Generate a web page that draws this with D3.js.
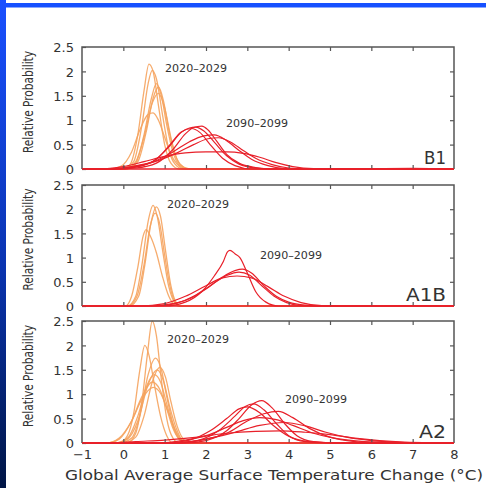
<!DOCTYPE html>
<html><head><meta charset="utf-8">
<script src="https://cdn.jsdelivr.net/npm/d3@7/dist/d3.min.js"></script>
<style>html,body{margin:0;padding:0;background:#fff;}svg{display:block;}</style>
</head><body>
<script>
// ---- data ----
const xTicks = [-1,0,1,2,3,4,5,6,7,8];
const xTickLabels = ["\u22121","0","1","2","3","4","5","6","7","8"];
const yTicks = [0,0.5,1,1.5,2,2.5];
const yTickLabels = ["0","0.5","1","1.5","2","2.5"];
const scenarios = ["B1","A1B","A2"];
const earlyLabel = "2020\u20132029";
const lateLabel = "2090\u20132099";
const yTitle = "Relative Probability";
const xTitle = "Global Average Surface Temperature Change (\u00B0C)";

const b1Early = [
  [[-0.1,0],[0.15,0.08],[0.35,0.7],[0.5,1.6],[0.62,2.15],[0.72,2.0],[0.85,1.3],[1.0,0.5],[1.15,0.12],[1.35,0]],
  [[0,0],[0.25,0.15],[0.45,0.9],[0.6,1.75],[0.7,2.02],[0.8,1.85],[0.95,1.1],[1.1,0.4],[1.25,0.1],[1.45,0]],
  [[0.05,0],[0.3,0.12],[0.5,0.7],[0.68,1.45],[0.8,1.75],[0.92,1.5],[1.05,0.9],[1.2,0.35],[1.35,0.08],[1.55,0]],
  [[0.1,0],[0.35,0.15],[0.55,0.75],[0.72,1.45],[0.85,1.68],[0.97,1.4],[1.1,0.8],[1.25,0.3],[1.4,0.07],[1.6,0]],
  [[0.05,0],[0.3,0.15],[0.5,0.65],[0.7,1.35],[0.85,1.55],[1.0,1.25],[1.15,0.65],[1.3,0.2],[1.45,0.04],[1.6,0]],
  [[-0.3,0],[-0.05,0.06],[0.2,0.35],[0.4,0.8],[0.6,1.12],[0.72,1.15],[0.85,1.0],[1.0,0.65],[1.15,0.3],[1.3,0.1],[1.5,0]]
];
const b1Late = [
  [[-0.2,0],[0.3,0.02],[0.8,0.12],[1.2,0.4],[1.5,0.72],[1.7,0.85],[1.9,0.88],[2.05,0.8],[2.25,0.58],[2.5,0.3],[2.8,0.12],[3.2,0.03],[3.6,0]],
  [[-0.3,0],[0.2,0.03],[0.7,0.15],[1.1,0.45],[1.4,0.75],[1.6,0.84],[1.75,0.86],[1.95,0.78],[2.2,0.55],[2.5,0.27],[2.8,0.1],[3.2,0.02],[3.6,0]],
  [[-0.2,0],[0.3,0.04],[0.8,0.2],[1.15,0.52],[1.4,0.76],[1.65,0.83],[1.85,0.75],[2.1,0.5],[2.4,0.22],[2.7,0.07],[3.1,0]],
  [[-0.4,0],[0.2,0.04],[0.7,0.14],[1.2,0.35],[1.6,0.56],[1.95,0.68],[2.2,0.7],[2.5,0.58],[2.8,0.38],[3.1,0.2],[3.5,0.07],[3.9,0.01],[4.3,0]],
  [[-0.4,0],[0.2,0.05],[0.8,0.16],[1.3,0.33],[1.7,0.5],[2.05,0.62],[2.3,0.64],[2.6,0.55],[2.9,0.38],[3.2,0.22],[3.6,0.09],[4.0,0.02],[4.5,0]],
  [[-0.6,0],[0,0.05],[0.5,0.15],[1.0,0.26],[1.5,0.33],[2.0,0.35],[2.5,0.35],[2.9,0.32],[3.3,0.24],[3.7,0.13],[4.1,0.05],[4.6,0.01],[5.5,0.005],[7,0.015],[8,0]]
];
const a1bEarly = [
  [[0.1,0],[0.3,0.2],[0.45,0.85],[0.6,1.75],[0.72,2.08],[0.82,1.85],[0.95,1.15],[1.1,0.4],[1.25,0.06],[1.35,0]],
  [[0.15,0],[0.37,0.2],[0.52,0.85],[0.67,1.72],[0.8,2.05],[0.9,1.85],[1.02,1.15],[1.15,0.42],[1.28,0.07],[1.4,0]],
  [[0.12,0],[0.33,0.2],[0.5,0.85],[0.65,1.65],[0.77,1.92],[0.88,1.7],[1.0,1.05],[1.13,0.4],[1.27,0.06],[1.38,0]],
  [[0.05,0],[0.2,0.2],[0.35,0.8],[0.48,1.45],[0.55,1.58],[0.65,1.45],[0.8,1.1],[0.95,0.6],[1.1,0.2],[1.25,0.02],[1.35,0]]
];
const a1bLate = [
  [[1.0,0],[1.5,0.08],[1.9,0.3],[2.2,0.62],[2.42,0.92],[2.52,1.12],[2.58,1.15],[2.7,1.08],[2.82,1.0],[3.0,0.68],[3.2,0.3],[3.45,0.08],[3.75,0]],
  [[0.6,0],[1.2,0.05],[1.6,0.15],[2.0,0.35],[2.4,0.6],[2.7,0.73],[2.88,0.76],[3.1,0.68],[3.4,0.42],[3.7,0.2],[4.0,0.08],[4.4,0.02],[5,0]],
  [[0.8,0],[1.3,0.06],[1.7,0.2],[2.1,0.42],[2.5,0.63],[2.8,0.7],[3.05,0.64],[3.35,0.42],[3.65,0.2],[3.95,0.07],[4.3,0.01],[4.8,0]],
  [[0.4,0],[1.0,0.05],[1.5,0.2],[2.0,0.42],[2.4,0.58],[2.75,0.62],[3.1,0.58],[3.5,0.4],[3.9,0.2],[4.3,0.07],[4.8,0.01],[5.5,0],[7,0.01],[8,0]]
];
const a2Early = [
  [[0.1,0],[0.3,0.2],[0.45,0.85],[0.58,1.8],[0.7,2.5],[0.8,2.2],[0.92,1.3],[1.05,0.5],[1.2,0.1],[1.35,0]],
  [[-0.1,0],[0.1,0.15],[0.25,0.6],[0.4,1.5],[0.52,2.0],[0.62,1.8],[0.75,1.2],[0.9,0.55],[1.05,0.15],[1.2,0]],
  [[-0.1,0],[0.2,0.1],[0.4,0.55],[0.6,1.4],[0.78,1.74],[0.92,1.5],[1.05,0.95],[1.2,0.4],[1.35,0.1],[1.55,0]],
  [[0,0],[0.3,0.12],[0.5,0.55],[0.7,1.25],[0.88,1.55],[1.02,1.35],[1.15,0.85],[1.3,0.35],[1.45,0.08],[1.6,0]],
  [[-0.2,0],[0.1,0.08],[0.35,0.45],[0.6,1.2],[0.82,1.5],[0.98,1.25],[1.12,0.75],[1.28,0.3],[1.42,0.06],[1.6,0]],
  [[-0.2,0],[0.1,0.1],[0.35,0.55],[0.58,1.2],[0.75,1.4],[0.9,1.25],[1.05,0.8],[1.2,0.35],[1.35,0.08],[1.5,0]],
  [[-0.4,0],[-0.1,0.08],[0.2,0.45],[0.45,0.95],[0.7,1.25],[0.88,1.1],[1.05,0.7],[1.2,0.3],[1.35,0.08],[1.55,0]],
  [[-0.4,0],[-0.1,0.1],[0.2,0.45],[0.45,0.9],[0.72,1.14],[0.9,1.02],[1.08,0.65],[1.25,0.28],[1.4,0.07],[1.6,0]]
];
const a2Late = [
  [[1.5,0],[2.0,0.05],[2.5,0.25],[2.8,0.5],[3.1,0.78],[3.35,0.87],[3.6,0.72],[3.9,0.4],[4.2,0.15],[4.6,0.03],[5.2,0]],
  [[1.3,0],[1.8,0.05],[2.3,0.25],[2.7,0.55],[2.95,0.75],[3.15,0.8],[3.4,0.68],[3.7,0.4],[4.0,0.15],[4.4,0.03],[5,0]],
  [[1.0,0],[1.6,0.06],[2.1,0.25],[2.5,0.5],[2.8,0.7],[3.0,0.74],[3.3,0.62],[3.6,0.38],[4.0,0.14],[4.5,0.03],[5.2,0]],
  [[1.2,0],[2.0,0.08],[2.5,0.2],[3.0,0.45],[3.4,0.6],[3.75,0.65],[4.1,0.52],[4.5,0.3],[5.0,0.12],[5.6,0.03],[6.3,0]],
  [[0.8,0],[1.5,0.06],[2.0,0.15],[2.5,0.32],[2.9,0.46],[3.3,0.52],[3.7,0.48],[4.1,0.36],[4.6,0.2],[5.1,0.1],[5.7,0.04],[6.5,0.01],[7.2,0]],
  [[1.0,0],[2.0,0.08],[2.7,0.22],[3.3,0.36],[3.9,0.42],[4.4,0.35],[4.9,0.22],[5.4,0.12],[6.0,0.05],[6.8,0.01],[7.5,0]],
  [[-0.3,0],[0.3,0.03],[1.0,0.06],[1.8,0.12],[2.5,0.2],[3.2,0.24],[3.8,0.25],[4.4,0.22],[5.0,0.17],[5.6,0.1],[6.2,0.05],[6.8,0.02],[7.5,0.005],[8,0]]
];
const earlySeries = [b1Early, a1bEarly, a2Early];
const lateSeries = [b1Late, a1bLate, a2Late];

// ---- layout ----
const W = 486, H = 488;
const panelTops = [47, 185, 321];
const panelBottoms = [169, 306, 443];
const left = 82, right = 454;
const earlyPos = [[196,68],[198,204],[198,339]];
const latePos = [[257,123],[291,255],[316,399]];
const scenLen = [22, 40, 27];

const svg = d3.select("body").append("svg").attr("width", W).attr("height", H);
const defs = svg.append("defs");
const grad = defs.append("linearGradient").attr("id","strip").attr("x1",0).attr("y1",0).attr("x2",0).attr("y2",1);
grad.append("stop").attr("offset","0%").attr("stop-color","#1a50ff");
grad.append("stop").attr("offset","55%").attr("stop-color","#0a34b0");
grad.append("stop").attr("offset","100%").attr("stop-color","#001545");
svg.append("rect").attr("x",0).attr("y",0).attr("width",W).attr("height",H).attr("fill","#fff");
svg.append("rect").attr("x",0).attr("y",3).attr("width",W).attr("height",4.5).attr("fill","#1650ff");
svg.append("rect").attr("x",0).attr("y",0).attr("width",6).attr("height",H).attr("fill","url(#strip)");

const x = d3.scaleLinear().domain([-1,8]).range([left,right]);
const frameColor = "#555";
const textColor = "#333";
const orange = "#f5a35e";
const red = "#e8202a";

panelTops.forEach((top, i) => {
  const bottom = panelBottoms[i];
  const y = d3.scaleLinear().domain([0,2.5]).range([bottom, top]);
  const g = svg.append("g");

  const clipId = "clip"+i;
  defs.append("clipPath").attr("id",clipId).append("rect")
    .attr("x",left).attr("y",top-2).attr("width",right-left).attr("height",bottom-top+3);

  const line = d3.line().x(d=>x(d[0])).y(d=>y(d[1])).curve(d3.curveMonotoneX);
  const extend = c => [[x.domain()[0],0], ...c, [x.domain()[1],0]];

  const plot = g.append("g").attr("clip-path",`url(#${clipId})`);
  plot.selectAll("path.early").data(earlySeries[i]).join("path")
    .attr("class","early").attr("d", c => line(extend(c)))
    .attr("fill","none").attr("stroke",orange).attr("stroke-width",1.3).attr("stroke-opacity",0.9);
  plot.selectAll("path.late").data(lateSeries[i]).join("path")
    .attr("class","late").attr("d", c => line(extend(c)))
    .attr("fill","none").attr("stroke",red).attr("stroke-width",1.2);

  // axes with inward ticks
  const yl = g.append("g").attr("transform",`translate(${left},0)`)
    .call(d3.axisLeft(y).tickValues(yTicks).tickSizeInner(-4).tickSizeOuter(0).tickPadding(8)
      .tickFormat((d,k)=>yTickLabels[k]));
  const yr = g.append("g").attr("transform",`translate(${right},0)`)
    .call(d3.axisRight(y).tickValues(yTicks.slice(1,-1)).tickSizeInner(-4).tickSizeOuter(0).tickFormat(""));
  const xt = g.append("g").attr("transform",`translate(0,${top})`)
    .call(d3.axisTop(x).tickValues(xTicks.slice(1,-1)).tickSizeInner(-4).tickSizeOuter(0).tickFormat(""));
  const xb = g.append("g").attr("transform",`translate(0,${bottom})`)
    .call(d3.axisBottom(x).tickValues(i===2 ? xTicks : xTicks.slice(1,-1)).tickSizeInner(-4).tickSizeOuter(0).tickPadding(7)
      .tickFormat((d,k)=> i===2 ? xTickLabels[k] : ""));
  [yl,yr,xt,xb].forEach(a => {
    a.select(".domain").remove();
    a.selectAll(".tick line").attr("stroke",frameColor).attr("stroke-width",1.2);
    a.selectAll(".tick text").attr("fill",textColor).style("font-family","'DejaVu Sans', Verdana, sans-serif").style("font-size","13px");
  });
  yl.selectAll(".tick text").attr("dy","0.36em");
  xb.selectAll(".tick line").filter(d => d===-1 || d===8).remove();

  // frame (left, top, right); bottom drawn lighter so curves show
  g.append("path")
    .attr("d", `M${left},${bottom}V${top}H${right}V${bottom}`)
    .attr("fill","none").attr("stroke",frameColor).attr("stroke-width",1.5);
  g.append("line").attr("x1",left).attr("x2",right).attr("y1",bottom).attr("y2",bottom)
    .attr("stroke",red).attr("stroke-width",1.4);

  // y title
  g.append("text").attr("transform",`translate(33,${(top+bottom)/2 - 6}) rotate(-90)`)
    .attr("text-anchor","middle").attr("fill",textColor)
    .style("font-family","'Liberation Sans Narrow','DejaVu Sans Condensed',Arial,sans-serif").style("font-size","14px")
    .attr("textLength",102).attr("lengthAdjust","spacingAndGlyphs").text(yTitle);

  // annotations
  g.append("text").attr("x",earlyPos[i][0]).attr("y",earlyPos[i][1]).attr("dy","0.35em")
    .attr("text-anchor","middle").attr("fill",textColor)
    .style("font-family","'DejaVu Sans',sans-serif").style("font-size","10.5px")
    .attr("textLength",62).attr("lengthAdjust","spacingAndGlyphs").text(earlyLabel);
  g.append("text").attr("x",latePos[i][0]).attr("y",latePos[i][1]).attr("dy","0.35em")
    .attr("text-anchor","middle").attr("fill",textColor)
    .style("font-family","'DejaVu Sans',sans-serif").style("font-size","10.5px")
    .attr("textLength",62).attr("lengthAdjust","spacingAndGlyphs").text(lateLabel);

  // scenario label
  g.append("text").attr("x",446).attr("y",bottom-5).attr("text-anchor","end").attr("fill",textColor)
    .style("font-family","'DejaVu Sans',sans-serif").style("font-size","18px")
    .attr("textLength",scenLen[i]).attr("lengthAdjust","spacingAndGlyphs").text(scenarios[i]);
});

svg.append("text").attr("x",(65+483)/2).attr("y",480).attr("text-anchor","middle").attr("fill",textColor)
  .style("font-family","'DejaVu Sans',Verdana,sans-serif").style("font-size","14px")
  .attr("textLength",418).attr("lengthAdjust","spacingAndGlyphs").text(xTitle);
</script>
</body></html>
